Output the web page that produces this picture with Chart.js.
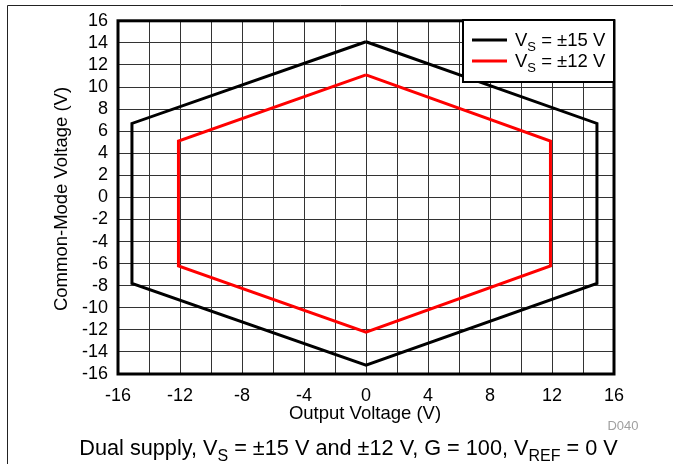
<!DOCTYPE html>
<html>
<head>
<meta charset="utf-8">
<script src="https://cdn.jsdelivr.net/npm/chart.js@4/dist/chart.umd.min.js"></script>
<style>
  html, body { margin: 0; padding: 0; background: #fff; }
  #wrap { width: 673px; height: 464px; position: relative; }
</style>
</head>
<body>
<div id="wrap"><canvas id="c" width="673" height="464"></canvas></div>
<script>
// Common-mode voltage vs output voltage boundaries (hexagons)
const vs15X = [0, 14.9, 14.9, 0, -15.1, -15.1, 0];
const vs15Y = [14.1, 6.7, -7.8, -15.2, -7.8, 6.7, 14.1];
const vs12X = [0, 11.9, 11.9, 0, -12.1, -12.1, 0];
const vs12Y = [11.1, 5.1, -6.2, -12.2, -6.2, 5.1, 11.1];

const xTicks = [-16, -12, -8, -4, 0, 4, 8, 12, 16];
const yTicks = [-16, -14, -12, -10, -8, -6, -4, -2, 0, 2, 4, 6, 8, 10, 12, 14, 16];

const FONT = '"Liberation Sans", Arial, sans-serif';

function toPoints(xs, ys) {
  return xs.map((x, i) => ({ x: x, y: ys[i] }));
}

// draws a run of text pieces, some as subscripts; returns end x
function drawRuns(ctx, runs, x, y, size) {
  let cx = x;
  runs.forEach(r => {
    if (r.sub) {
      ctx.font = Math.round(size * 0.72) + 'px ' + FONT;
      ctx.fillText(r.t, cx, y + size * 0.28);
    } else {
      ctx.font = size + 'px ' + FONT;
      ctx.fillText(r.t, cx, y);
    }
    cx += ctx.measureText(r.t).width;
  });
  return cx;
}
function runsWidth(ctx, runs, size) {
  let w = 0;
  runs.forEach(r => {
    ctx.font = (r.sub ? Math.round(size * 0.72) : size) + 'px ' + FONT;
    w += ctx.measureText(r.t).width;
  });
  return w;
}

const decor = {
  id: 'decor',
  afterDatasetsDraw(chart) {
    const ctx = chart.ctx;
    const a = chart.chartArea;
    ctx.save();
    // plot frame
    ctx.strokeStyle = '#000';
    ctx.lineWidth = 3;
    ctx.strokeRect(a.left, a.top, a.right - a.left, a.bottom - a.top);

    // legend
    const lx = 463, ly = 20, lw = 151, lh = 62;
    ctx.fillStyle = '#fff';
    ctx.fillRect(lx, ly, lw, lh);
    ctx.lineWidth = 2;
    ctx.strokeRect(lx, ly, lw, lh);
    const entries = [
      { color: '#000', y: 40, runs: [{ t: 'V' }, { t: 'S', sub: true }, { t: ' = \u00b115 V' }] },
      { color: '#ff0000', y: 61, runs: [{ t: 'V' }, { t: 'S', sub: true }, { t: ' = \u00b112 V' }] }
    ];
    entries.forEach(e => {
      ctx.strokeStyle = e.color;
      ctx.lineWidth = 3;
      ctx.beginPath();
      ctx.moveTo(472, e.y);
      ctx.lineTo(507, e.y);
      ctx.stroke();
      ctx.fillStyle = '#000';
      ctx.textBaseline = 'alphabetic';
      ctx.textAlign = 'left';
      drawRuns(ctx, e.runs, 515, e.y + 6, 18.5);
    });

    // axis titles
    ctx.fillStyle = '#000';
    ctx.font = '18.5px ' + FONT;
    ctx.textAlign = 'center';
    ctx.textBaseline = 'middle';
    ctx.fillText('Output Voltage (V)', 365, 414);
    ctx.save();
    ctx.translate(62, 199);
    ctx.rotate(-Math.PI / 2);
    ctx.fillText('Common-Mode Voltage (V)', 0, 0);
    ctx.restore();

    // figure id
    ctx.fillStyle = '#a0a0a0';
    ctx.font = '13px ' + FONT;
    ctx.fillText('D040', 623, 426);

    // caption
    ctx.fillStyle = '#000';
    ctx.textAlign = 'left';
    ctx.textBaseline = 'alphabetic';
    const cap = [
      { t: 'Dual supply, V' }, { t: 'S', sub: true },
      { t: ' = \u00b115 V and \u00b112 V, G = 100, V' }, { t: 'REF', sub: true },
      { t: ' = 0 V' }
    ];
    const cw = runsWidth(ctx, cap, 21.7);
    drawRuns(ctx, cap, 348.5 - cw / 2, 455, 21.7);

    // outer page frame
    ctx.strokeStyle = '#222';
    ctx.lineWidth = 1;
    ctx.beginPath();
    ctx.moveTo(7.5, 464);
    ctx.lineTo(7.5, 5.5);
    ctx.lineTo(673, 5.5);
    ctx.stroke();
    ctx.restore();
  }
};

new Chart(document.getElementById('c'), {
  type: 'scatter',
  data: {
    datasets: [
      { label: 'VS = ±15 V', data: toPoints(vs15X, vs15Y), showLine: true, borderColor: '#000',
        borderWidth: 3, pointRadius: 0, tension: 0, fill: false },
      { label: 'VS = ±12 V', data: toPoints(vs12X, vs12Y), showLine: true, borderColor: '#ff0000',
        borderWidth: 3, pointRadius: 0, tension: 0, fill: false }
    ]
  },
  options: {
    responsive: false,
    animation: false,
    devicePixelRatio: 1,
    layout: { padding: { left: 0, top: 20, right: 59, bottom: 0 } },
    plugins: { legend: { display: false }, tooltip: { enabled: false } },
    scales: {
      x: {
        type: 'linear', min: -16, max: 16,
        afterFit(s) { s.height = 90; },
        afterBuildTicks(s) {
          const t = [];
          for (let v = -16; v <= 16; v += 2) t.push({ value: v });
          s.ticks = t;
        },
        ticks: {
          autoSkip: false, maxRotation: 0, padding: 11, color: '#000',
          font: { family: FONT, size: 18 },
          callback: v => xTicks.includes(v) ? String(v) : ''
        },
        grid: { color: '#333', lineWidth: 1, drawTicks: false },
        border: { display: false }
      },
      y: {
        type: 'linear', min: -16, max: 16,
        afterFit(s) { s.width = 118; },
        afterBuildTicks(s) {
          s.ticks = yTicks.map(v => ({ value: v }));
        },
        ticks: {
          autoSkip: false, padding: 10, color: '#000',
          font: { family: FONT, size: 18 },
          callback: v => String(v)
        },
        grid: { color: '#333', lineWidth: 1, drawTicks: false },
        border: { display: false }
      }
    }
  },
  plugins: [decor]
});
</script>
</body>
</html>
